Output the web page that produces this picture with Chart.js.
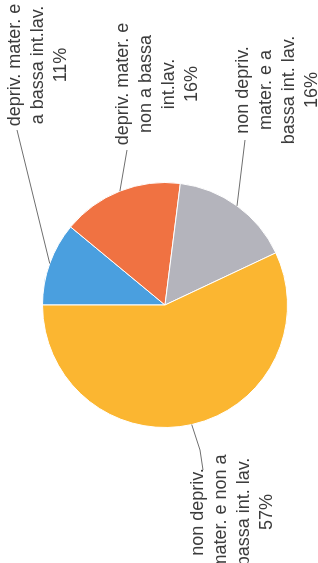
<!DOCTYPE html>
<html>
<head>
<meta charset="utf-8">
<script src="https://cdn.jsdelivr.net/npm/chart.js@4.4.1/dist/chart.umd.min.js"></script>
<style>
  html, body { margin: 0; padding: 0; background: #fff; overflow: hidden; }
  /* the scanned chart sits on its side, so the whole chart is turned a quarter left */
  #wrap {
    position: absolute; left: 0; top: 0;
    width: 563px; height: 318px;
    transform-origin: 0 0;
    transform: translate(0, 563px) rotate(-90deg);
  }
</style>
</head>
<body>
<div id="wrap"><canvas id="pie" width="563" height="318"></canvas></div>
<script>
// ─── Data ─────────────────────────────────────────────────────────────
const categories = [
  ["depriv. mater. e", "a bassa int.lav."],
  ["depriv. mater. e", "non a bassa", "int.lav."],
  ["non depriv.", "mater. e a", "bassa int. lav."],
  ["non depriv.", "mater. e non a", "bassa int. lav."]
];
const shares = [11, 16, 16, 57];
const sliceColors = ["#4a9fdf", "#f07242", "#b4b4bc", "#fbb631"];

// label boxes (chart coords, before the quarter turn): centre x, first line y, leader end
const labelSpots = [
  { x: 498, y: 15,  ex: 433, ey: 17 },
  { x: 479, y: 123, ex: 413, ey: 127 },
  { x: 473, y: 243, ex: 423, ey: 245 },
  { x: 51,  y: 198, ex: 93,  ey: 203, bx: 113, by: 200 }
];
const LINE_H = 23;
const FONT = '18px "Liberation Sans Narrow", "Liberation Sans", sans-serif';

const calloutPlugin = {
  id: "callouts",
  afterDatasetsDraw(chart) {
    const ctx = chart.ctx;
    const arcs = chart.getDatasetMeta(0).data;
    ctx.save();
    arcs.forEach((arc, i) => {
      const p = arc.getProps(["x", "y", "startAngle", "endAngle", "outerRadius"], true);
      const mid = (p.startAngle + p.endAngle) / 2;
      const sx = p.x + Math.cos(mid) * p.outerRadius;
      const sy = p.y + Math.sin(mid) * p.outerRadius;
      const spot = labelSpots[i];

      ctx.strokeStyle = "#6f6f6f";
      ctx.lineWidth = 1;
      ctx.beginPath();
      ctx.moveTo(sx, sy);
      if (spot.bx !== undefined) ctx.lineTo(spot.bx, spot.by);
      ctx.lineTo(spot.ex, spot.ey);
      ctx.stroke();

      const lines = categories[i].concat([shares[i] + "%"]);
      ctx.fillStyle = "#3c3c3c";
      ctx.font = FONT;
      ctx.textAlign = "center";
      ctx.textBaseline = "middle";
      lines.forEach((t, k) => ctx.fillText(t, spot.x, spot.y + k * LINE_H));
    });
    ctx.restore();
  }
};

new Chart(document.getElementById("pie"), {
  type: "pie",
  data: {
    labels: categories.map(c => c.join(" ")),
    datasets: [{
      data: shares,
      backgroundColor: sliceColors,
      borderColor: "#ffffff",
      borderWidth: 1
    }]
  },
  options: {
    responsive: false,
    animation: false,
    devicePixelRatio: 1,
    layout: { padding: { left: 135, right: 182, top: 42, bottom: 30 } },
    plugins: {
      legend: { display: false },
      tooltip: { enabled: false }
    }
  },
  plugins: [calloutPlugin]
});
</script>
</body>
</html>
